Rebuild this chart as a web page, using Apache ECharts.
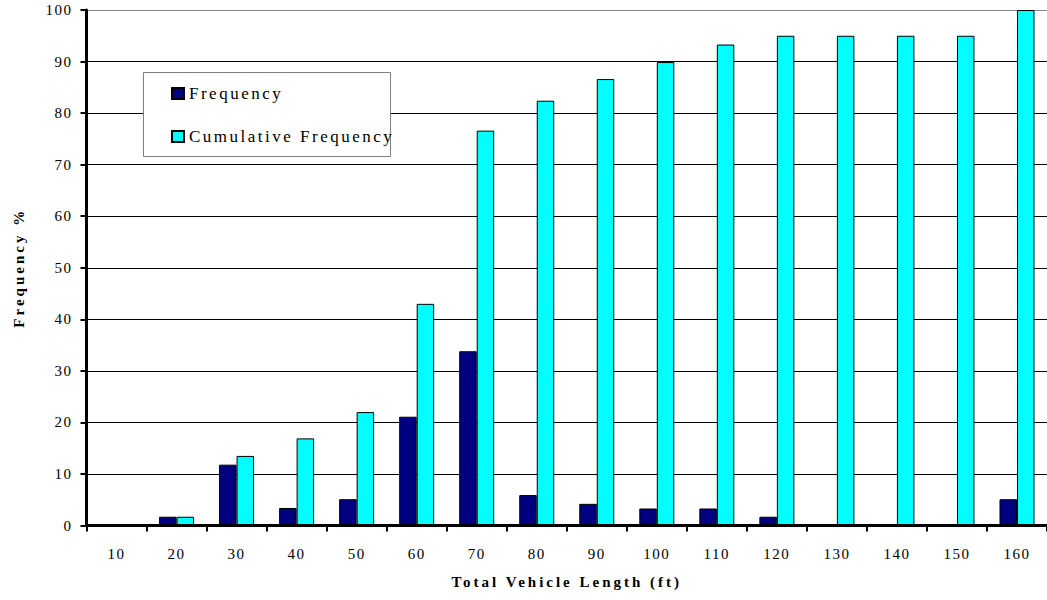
<!DOCTYPE html>
<html>
<head>
<meta charset="utf-8">
<title>Total Vehicle Length Frequency</title>
<script src="https://cdn.jsdelivr.net/npm/echarts@6/dist/echarts.min.js"></script>
<style>
  html, body { margin: 0; padding: 0; background: #fff; }
  #chart { width: 1047px; height: 600px; }
</style>
</head>
<body>
<div id="chart"></div>
<script>
// Vehicle length bins (ft)
const categories = ['10', '20', '30', '40', '50', '60', '70', '80', '90', '100', '110', '120', '130', '140', '150', '160'];
// Share of vehicles in each bin (%)
const frequency = [0, 1.7, 11.8, 3.4, 5.1, 21.1, 33.8, 5.9, 4.2, 3.3, 3.3, 1.7, 0, 0, 0, 5.1];
// Running total of the shares (%)
const cumulative = [0, 1.7, 13.5, 16.9, 22.0, 43.0, 76.6, 82.4, 86.6, 89.9, 93.3, 95.0, 95.0, 95.0, 95.0, 100];
// Value axis ticks
const yTicks = [0, 10, 20, 30, 40, 50, 60, 70, 80, 90, 100];

const serif = "'Liberation Serif', serif";

const chartDom = document.getElementById('chart');
const chart = echarts.init(chartDom, null, { renderer: 'svg' });

// Grid lines are black; the top one forms the plot frame and is grey.
const splitColors = yTicks.map((v, i) => (i === yTicks.length - 1 ? '#8a8a8a' : '#000'));

const option = {
  animation: false,
  backgroundColor: '#fff',
  textStyle: { fontFamily: serif, color: '#000' },
  grid: { left: 86.5, right: -4, top: 10, bottom: 74.5, containLabel: false },
  legend: {
    orient: 'vertical',
    left: 171,
    top: 85,
    padding: 0,
    z: 6,
    itemWidth: 12,
    itemHeight: 11,
    itemGap: 26,
    icon: 'rect',
    selectedMode: false,
    textStyle: { fontFamily: serif, fontSize: 17, color: '#000' },
    data: ['Frequency', 'Cumulative Frequency']
  },
  graphic: [{
    type: 'rect',
    z: 5,
    shape: { x: 143.5, y: 72.5, width: 247, height: 84 },
    style: { fill: '#fff', stroke: '#808080', lineWidth: 1 }
  }],
  xAxis: {
    type: 'category',
    data: categories,
    boundaryGap: true,
    z: 3,
    name: 'Total Vehicle Length (ft)',
    nameLocation: 'middle',
    nameGap: 49,
    nameTextStyle: { fontFamily: serif, fontSize: 15, fontWeight: 'bold', color: '#000' },
    axisLine: { lineStyle: { color: '#000', width: 3 } },
    axisTick: { show: true, alignWithLabel: false, length: 6, lineStyle: { color: '#000', width: 2 } },
    axisLabel: { fontFamily: serif, fontSize: 15, color: '#000', margin: 21, interval: 0 },
    splitLine: { show: false }
  },
  yAxis: {
    type: 'value',
    min: 0,
    max: 100,
    interval: 10,
    name: 'Frequency %',
    nameLocation: 'middle',
    nameRotate: 90,
    nameGap: 60,
    nameTextStyle: { fontFamily: serif, fontSize: 15, fontWeight: 'bold', color: '#000' },
    axisLine: { show: true, lineStyle: { color: '#000', width: 3 } },
    axisTick: { show: true, length: 6, lineStyle: { color: '#000', width: 2 } },
    axisLabel: { fontFamily: serif, fontSize: 15, color: '#000', margin: 14 },
    splitLine: { show: true, lineStyle: { color: splitColors, width: 1 } }
  },
  series: [
    {
      name: 'Frequency',
      type: 'bar',
      data: frequency,
      barWidth: 17.5,
      barGap: '0%',
      itemStyle: { color: '#000080', borderColor: '#000', borderWidth: 1 }
    },
    {
      name: 'Cumulative Frequency',
      type: 'bar',
      data: cumulative,
      barWidth: 17.5,
      barGap: '0%',
      itemStyle: { color: '#00ffff', borderColor: '#000', borderWidth: 1 }
    }
  ]
};

// Widen the letter spacing of the serif captions once the SVG is drawn.
function spaceLetters() {
  chartDom.querySelectorAll('text').forEach(t => {
    const cs = getComputedStyle(t);
    const size = parseFloat(cs.fontSize);
    const bold = parseInt(cs.fontWeight, 10) >= 600;
    t.style.fontFamily = "'Liberation Serif', serif";
    t.style.letterSpacing = bold ? '3px' : (size >= 16 ? '2.5px' : '1.5px');
  });
}
chart.on('finished', spaceLetters);
chart.setOption(option);
spaceLetters();
</script>
</body>
</html>
